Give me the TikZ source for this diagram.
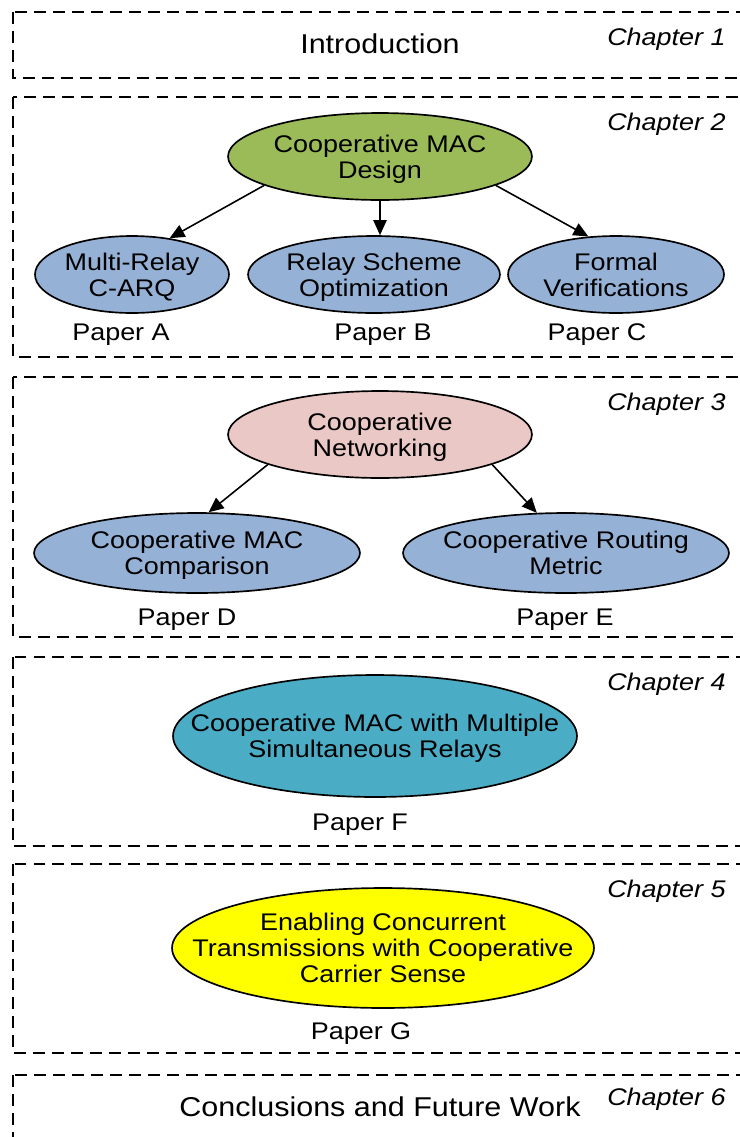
\documentclass[tikz,border=0pt]{standalone}
\usepackage{fontspec}
\setmainfont{Liberation Sans}[FakeStretch=1.12]
\usetikzlibrary{shapes.geometric,arrows.meta}
\definecolor{cgreen}{HTML}{9BBB59}
\definecolor{cblue}{HTML}{95B1D5}
\definecolor{cpink}{HTML}{EAC8C6}
\definecolor{cteal}{HTML}{4BACC6}
\definecolor{cyellow}{HTML}{FFFF00}
\tikzset{
  chapbox/.style={draw=black, line width=1.1pt, dash pattern=on 6.8pt off 4pt},
  oval/.style={ellipse, draw=black, line width=0.95pt, inner sep=0pt},
  txt/.style={inner sep=0pt, align=center, yshift=-1.9pt, font=\fontsize{13.7pt}{14.8pt}\selectfont},
  lbl/.style={inner sep=0pt, font=\fontsize{13.7pt}{14.8pt}\selectfont},
  big/.style={inner sep=0pt, font=\fontsize{15.5pt}{16.5pt}\selectfont},
  chap/.style={inner sep=0pt, anchor=east, font=\fontsize{13.7pt}{14.8pt}\selectfont\itshape},
  arr/.style={draw=black, line width=0.9pt, -{Triangle[length=8.5pt,width=7.5pt]}}
}
\begin{document}
\begin{tikzpicture}[x=0.02cm,y=-0.02cm]
\useasboundingbox (0,0) rectangle (740,1137);
\clip (0,0) rectangle (740,1137);
% chapter boxes
\draw[chapbox] (13,12) rectangle (770,78);
\draw[chapbox] (13,97) rectangle (770,357);
\draw[chapbox] (13,377) rectangle (770,637);
\draw[chapbox] (13,657) rectangle (770,846);
\draw[chapbox] (13,864) rectangle (770,1053);
\draw[chapbox] (13,1075) rectangle (770,1160);
% chapter 1
\node[big] (intro) at (380,44) {Introduction};
\node[chap] (ch1) at (726,39) {Chapter 1};
% chapter 2
\node[chap] (ch2) at (726,124) {Chapter 2};
\node[oval, fill=cgreen, minimum width=6.08cm, minimum height=1.74cm] (cmd) at (380,156.5) {};
\node[txt] (cmdt) at (cmd) {\strut Cooperative MAC\\\strut Design};
\node[oval, fill=cblue, minimum width=3.88cm, minimum height=1.54cm] (mr) at (132,274.5) {};
\node[txt] (mrt) at (mr) {\strut Multi-Relay\\\strut C-ARQ};
\node[oval, fill=cblue, minimum width=5.04cm, minimum height=1.54cm] (rs) at (374,274.5) {};
\node[txt] (rst) at (rs) {\strut Relay Scheme\\\strut Optimization};
\node[oval, fill=cblue, minimum width=4.32cm, minimum height=1.54cm] (fv) at (616,274.5) {};
\node[txt] (fvt) at (fv) {\strut Formal\\\strut Verifications};
\node[lbl] (pa) at (121,335) {Paper A};
\node[lbl] (pb) at (383,335) {Paper B};
\node[lbl] (pc) at (597,335) {Paper C};
\draw[arr] (cmd.194.5) -- (mr.44);
\draw[arr] (cmd.south) -- (cmd.south |- rs.north);
\draw[arr] (cmd.-14.8) -- (fv.126.6);
% chapter 3
\node[chap] (ch3) at (726,404) {Chapter 3};
\node[oval, fill=cpink, minimum width=6.08cm, minimum height=1.74cm] (cn) at (380,434.5) {};
\node[txt] (cnt) at (cn) {\strut Cooperative\\\strut Networking};
\node[oval, fill=cblue, minimum width=6.52cm, minimum height=1.6cm] (cmc) at (197,553) {};
\node[txt] (cmct) at (cmc) {\strut Cooperative MAC\\\strut Comparison};
\node[oval, fill=cblue, minimum width=6.52cm, minimum height=1.6cm] (crm) at (566,553) {};
\node[txt] (crmt) at (crm) {\strut Cooperative Routing\\\strut Metric};
\node[lbl] (pd) at (187,620) {Paper D};
\node[lbl] (pe) at (565,620) {Paper E};
\draw[arr] (cn.195.5) -- (cmc.74.6);
\draw[arr] (cn.-15.5) -- (crm.126.9);
% chapter 4
\node[chap] (ch4) at (726,684) {Chapter 4};
\node[oval, fill=cteal, minimum width=8.08cm, minimum height=2.44cm] (mult) at (375,736) {};
\node[txt] (multt) at (mult) {\strut Cooperative MAC with Multiple\\\strut Simultaneous Relays};
\node[lbl] (pf) at (360,825) {Paper F};
% chapter 5
\node[chap] (ch5) at (726,891) {Chapter 5};
\node[oval, fill=cyellow, minimum width=8.44cm, minimum height=2.4cm] (conc) at (383,948) {};
\node[txt] (conct) at (conc) {\strut Enabling Concurrent\\\strut Transmissions with Cooperative\\\strut Carrier Sense};
\node[lbl] (pg) at (361,1034) {Paper G};
% chapter 6
\node[chap] (ch6) at (726,1099) {Chapter 6};
\node[big] (cfw) at (380,1107) {Conclusions and Future Work};
\end{tikzpicture}
\end{document}
